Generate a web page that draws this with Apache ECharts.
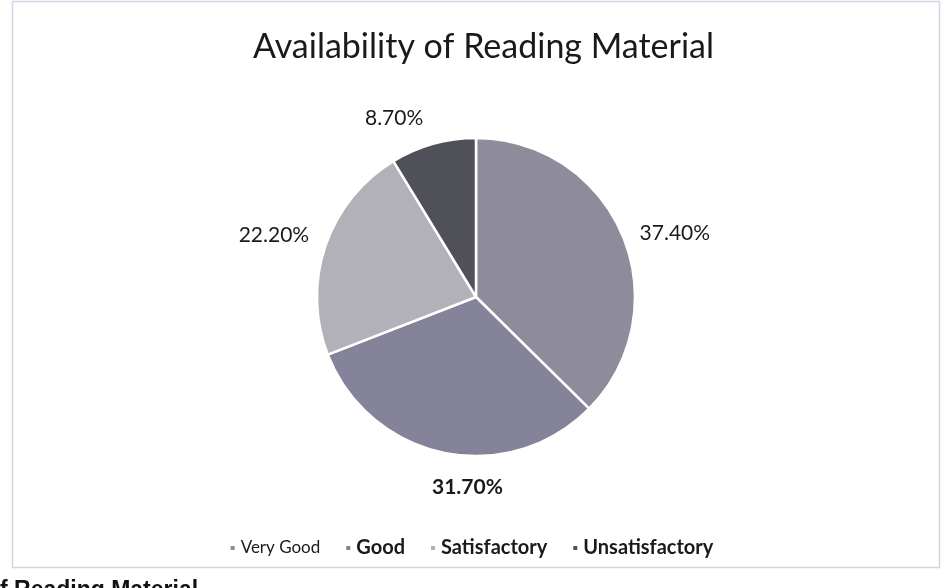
<!DOCTYPE html>
<html>
<head>
<meta charset="utf-8">
<script src="https://cdn.jsdelivr.net/npm/echarts@6/dist/echarts.min.js"></script>
<style>
html,body{margin:0;padding:0;background:#fff;}
#c{width:942px;height:588px;}
</style>
</head>
<body>
<div id="c"></div>
<script>
var categories = ['Very Good', 'Good', 'Satisfactory', 'Unsatisfactory'];
var values = [37.4, 31.7, 22.2, 8.7];
var colors = ['#8e8c9a', '#85839a', '#b2b0b8', '#505058'];
var boldLabel = [false, true, false, false];
var boldLegend = [false, true, true, true];
var labelOffsets = [[-7, 3], [73, 21], [8, -6], [5, -12]];

var chart = echarts.init(document.getElementById('c'));
var data = categories.map(function (name, i) {
  return {
    name: name,
    value: values[i],
    itemStyle: { color: colors[i] },
    label: { fontWeight: boldLabel[i] ? 'bold' : 'normal', offset: labelOffsets[i] }
  };
});
chart.setOption({
  backgroundColor: '#ffffff',
  animation: false,
  title: {
    text: 'Availability of Reading Material',
    left: 248,
    top: 25,
    textStyle: { fontFamily: 'Lato', fontSize: 34, fontWeight: 'normal', color: '#1a1a1a' }
  },
  legend: {
    bottom: 25,
    left: 'center',
    itemWidth: 6,
    itemHeight: 6,
    itemGap: 24,
    icon: 'rect',
    data: categories.map(function (name, i) {
      return {
        name: name,
        itemStyle: { color: colors[i] },
        textStyle: boldLegend[i] ? { fontWeight: 'bold', fontSize: 20 } : { fontWeight: 'normal', fontSize: 17 }
      };
    }),
    textStyle: { fontFamily: 'Lato', fontSize: 17, color: '#1a1a1a' }
  },
  graphic: [
    {
      type: 'rect',
      shape: { x: 12.5, y: 1.5, width: 927, height: 566 },
      style: { fill: 'none', stroke: '#d6d6e6', lineWidth: 1.5 },
      silent: true, z: -1
    },
    {
      type: 'text',
      left: 0, top: 579,
      style: { text: 'f Reading Material', font: 'bold 23px "Liberation Sans", Arial, sans-serif', fill: '#111' }
    }
  ],
  series: [{
    type: 'pie',
    center: [476, 297],
    radius: [0, 159],
    startAngle: 90,
    clockwise: true,
    itemStyle: { borderColor: '#ffffff', borderWidth: 2.5 },
    label: {
      show: true,
      position: 'outside',
      formatter: function (p) { return p.value.toFixed(2) + '%'; },
      fontFamily: 'Lato',
      fontSize: 21,
      color: '#1a1a1a'
    },
    labelLine: { show: false, length: 14, length2: 6 },
    data: data
  }]
});
</script>
</body>
</html>
